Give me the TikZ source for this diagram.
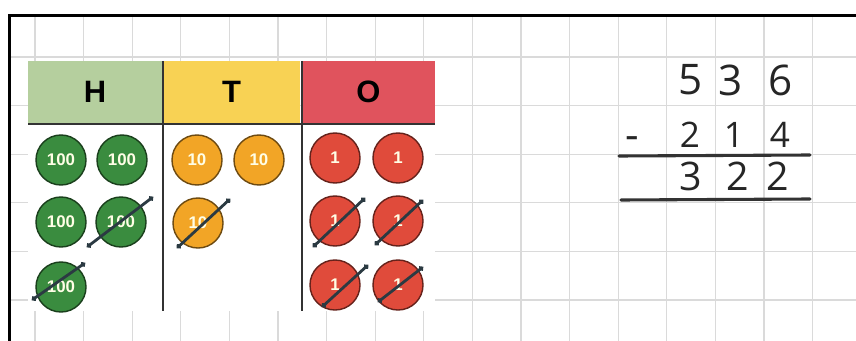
\documentclass[tikz,border=0pt]{standalone}
\usepackage{fontspec}
\setmainfont{Liberation Sans}
\newfontfamily\handfont{Open Sans}
\usepackage{xcolor}
\usetikzlibrary{arrows.meta, calc}

\definecolor{hgreen}{HTML}{B5CF9E}
\definecolor{tyellow}{HTML}{F8D254}
\definecolor{ored}{HTML}{E0535D}
\definecolor{cgreen}{HTML}{3A8C3F}
\definecolor{corange}{HTML}{F2A526}
\definecolor{cred}{HTML}{E04B3B}
\definecolor{gridgray}{HTML}{DADADA}
\definecolor{pencil}{HTML}{2B3A42}

\begin{document}
\begin{tikzpicture}[x=0.025cm, y=-0.025cm,
    gridline/.style={gridgray, line width=0.8pt},
    header/.style={rectangle, minimum height=1.55cm, inner sep=0pt, font=\fontsize{22}{24}\selectfont\bfseries},
    divider/.style={black!80, line width=1.4pt},
    counter/.style={circle, minimum size=1.25cm, inner sep=0pt, line width=1pt, text=white!90!yellow, font=\fontsize{12}{14}\selectfont\bfseries},
    hundred/.style={counter, fill=cgreen, draw=cgreen!45!black},
    ten/.style={counter, fill=corange, draw=corange!45!black},
    one/.style={counter, fill=cred, draw=cred!45!black},
    strike/.style={pencil, line width=2pt, {Circle[length=3.5pt]}-{Circle[length=3.5pt]}},
    digit/.style={inner sep=0pt, text=black!85, font=\handfont\fontsize{30}{32}\selectfont},
    rule/.style={black!80, line width=2.2pt, line cap=round}
]
\useasboundingbox (0,0) rectangle (856,341);

% Squared paper
\begin{scope}
\clip (11,17) rectangle (856,341);
\foreach \k in {0,...,17}
    \draw[gridline] (35+48.6*\k,17) -- (35+48.6*\k,341);
\foreach \k in {0,...,5}
    \draw[gridline] (11,57+48.6*\k) -- (856,57+48.6*\k);
\end{scope}
\draw[black, line width=2.2pt] (856,15.5) -- (9.5,15.5) -- (9.5,341);

% Place value chart
\fill[white] (28,124) rectangle (435,311);
\node[header, fill=hgreen, minimum width=3.35cm] (hcol) at (95,92) {H};
\node[header, fill=tyellow, minimum width=3.425cm] (tcol) at (231.5,92) {T};
\node[header, fill=ored, minimum width=3.325cm] (ocol) at (368.5,92) {O};
\draw[divider] (28,124) -- (435,124);
\draw[divider] (163,61) -- (163,311);
\draw[divider] (302,61) -- (302,311);

% Counters
\node[hundred] (h1) at (61,160) {100};
\node[hundred] (h2) at (122,160) {100};
\node[hundred] (h3) at (61,222) {100};
\node[hundred] (h4) at (121,222) {100};
\node[hundred] (h5) at (61,287) {100};
\node[ten] (t1) at (197,160) {10};
\node[ten] (t2) at (259,160) {10};
\node[ten] (t3) at (198,223) {10};
\node[one] (o1) at (335,158) {1};
\node[one] (o2) at (398,158) {1};
\node[one] (o3) at (335,221) {1};
\node[one] (o4) at (398,221) {1};
\node[one] (o5) at (335,285) {1};
\node[one] (o6) at (398,285) {1};

% Crossed out
\draw[strike] ($(h4)+(-34,25)$) -- ($(h4)+(32,-25)$);
\draw[strike] ($(h5)+(-29,13)$) -- ($(h5)+(24,-24)$);
\draw[strike] ($(t3)+(-21,25)$) -- ($(t3)+(32,-24)$);
\draw[strike] ($(o3)+(-22,26)$) -- ($(o3)+(30,-23)$);
\draw[strike] ($(o4)+(-23,24)$) -- ($(o4)+(25,-21)$);
\draw[strike] ($(o5)+(-13,22)$) -- ($(o5)+(33,-20)$);
\draw[strike] ($(o6)+(-20,17)$) -- ($(o6)+(25,-18)$);

% Column subtraction
\node[digit] (a1) at (691,80) {5};
\node[digit] (a2) at (731,80) {3};
\node[digit] (a3) at (781,80) {6};
\node[digit] (minus) at (632,143) {-};
\node[digit, font=\handfont\fontsize{25}{27}\selectfont] (b1) at (690,135) {2};
\node[digit, font=\handfont\fontsize{25}{27}\selectfont] (b2) at (734,135) {1};
\node[digit, font=\handfont\fontsize{25}{27}\selectfont] (b3) at (780,135) {4};
\draw[rule] (619,156) -- (810,155);
\node[digit, font=\handfont\fontsize{28}{30}\selectfont] (c1) at (691,176) {3};
\node[digit, font=\handfont\fontsize{28}{30}\selectfont] (c2) at (738,176) {2};
\node[digit, font=\handfont\fontsize{28}{30}\selectfont] (c3) at (778,176) {2};
\draw[rule] (621,200) -- (810,199);

\end{tikzpicture}
\end{document}
